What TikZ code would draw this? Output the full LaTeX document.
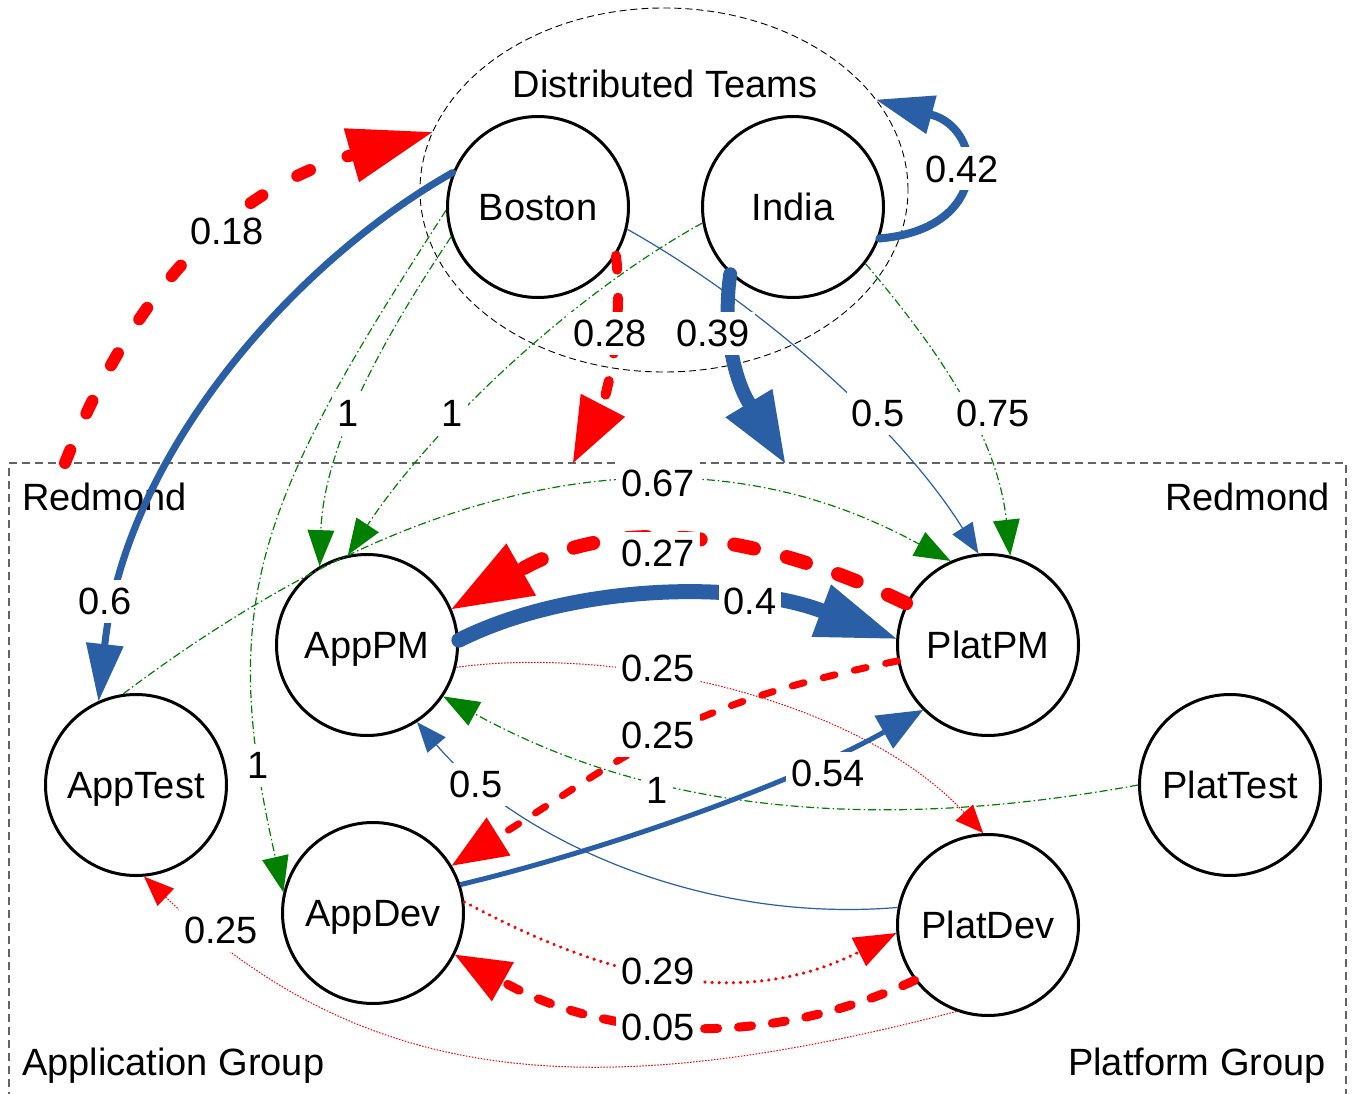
\documentclass[tikz,border=0pt]{standalone}
\usepackage{fontspec}
\setmainfont{Liberation Sans}
\usetikzlibrary{arrows.meta,shapes.geometric}
\definecolor{eblue}{RGB}{42,95,165}
\definecolor{ered}{RGB}{255,0,0}
\definecolor{egreen}{RGB}{0,128,0}
\definecolor{egray}{RGB}{100,100,100}
\tikzset{
  bigfont/.style={font=\fontsize{38}{44}\selectfont, text height=27pt, text depth=0pt},
  nd/.style={circle, draw=black, line width=3pt, fill=white, minimum size=181pt, inner sep=0pt, bigfont},
  lbl/.style={fill=white, inner xsep=5pt, inner ysep=8pt, bigfont},
  txt/.style={inner sep=0pt, bigfont},
  gdd/.style={draw=egreen, line width=1.2pt, dash pattern=on 8pt off 3pt on 1.5pt off 3pt,
              -{Triangle[length=36pt,width=27pt,line width=0pt]}},
  bluethin/.style={draw=eblue, line width=1.2pt, -{Triangle[length=30pt,width=24pt,line width=0pt]}},
  rdot/.style={draw=ered, line width=1pt, dash pattern=on 1.5pt off 1.5pt},
  bluethick/.style={draw=eblue, line cap=round},
  reddash/.style={draw=ered, line cap=round},
}
\begin{document}
\begin{tikzpicture}[x=1pt,y=-1pt]
\useasboundingbox (0,0) rectangle (1355,1094);
\clip (0,0) rectangle (1355,1094);
\fill[white] (0,0) rectangle (1355,1094);

% group frames
\node[draw=egray, line width=1.2pt, dash pattern=on 8pt off 5pt, minimum width=1337pt, minimum height=649pt, inner sep=0pt] (redmond) at (677.5,787.5) {};
\node[draw=black, ellipse, line width=0.9pt, dash pattern=on 7pt off 4pt, minimum width=488pt, minimum height=364pt, inner sep=0pt] (dist) at (664,190) {};
\node[txt] (distlbl) at (665,84) {Distributed Teams};
\node[txt, anchor=west] (redl) at (22,497) {Redmond};
\node[txt, anchor=east] (redr) at (1330,497) {Redmond};
\node[txt, anchor=west] (appgrp) at (22,1062) {Application Group};
\node[txt, anchor=east] (platgrp) at (1326,1062) {Platform Group};

\coordinate (r18) at (65,463);
\coordinate (r28) at (573,463);
\coordinate (r39) at (785,463);

% nodes
\node[nd] (boston) at (538,207) {Boston};
\node[nd] (india) at (793,207) {India};
\node[nd] (apppm) at (367,645) {AppPM};
\node[nd] (platpm) at (988,645) {PlatPM};
\node[nd] (apptest) at (136,785) {AppTest};
\node[nd] (plattest) at (1230,785) {PlatTest};
\node[nd] (appdev) at (373,913) {AppDev};
\node[nd] (platdev) at (988,925) {PlatDev};

% edges
\draw[reddash, line width=12pt, dash pattern=on 14pt off 40pt, -{Triangle[length=84pt,width=56pt,line width=0pt]}]
  (r18) .. controls (139,277) and (240,187) .. (dist.166);
\draw[bluethick, line width=7pt, -{Triangle[length=57pt,width=38pt,line width=0pt]}]
  (boston.158) .. controls (296,261) and (126,452) .. (apptest.114);
\draw[bluethick, line width=8pt, -{Triangle[length=57pt,width=40pt,line width=0pt]}]
  (india.340) .. controls (993,229) and (984,129) .. (dist.23);
\draw[reddash, line width=10pt, dash pattern=on 14pt off 28pt, -{Triangle[length=65pt,width=50pt,line width=0pt]}]
  (boston.-32) .. controls (625,340) and (601,409) .. (r28);
\draw[bluethick, line width=14pt, -{Triangle[length=70pt,width=55pt,line width=0pt]}]
  (india.227) .. controls (722,330) and (735,380) .. (r39);
\draw[bluethin] (boston.-14.5) .. controls (757,302) and (898,425) .. (platpm.96);
\draw[gdd] (india.-38) .. controls (936,347) and (997,434) .. (platpm.76.5);
\draw[gdd] (boston.199) .. controls (384,337) and (324,445) .. (apppm.121.5);
\draw[gdd] (boston.182) .. controls (256,504) and (217,601) .. (appdev.167);
\draw[gdd] (india.190.6) .. controls (570,296) and (430,430) .. (apppm.102);
\draw[gdd] (apptest.98.6) .. controls (554,369) and (824,493) .. (platpm.114.6);
\draw[reddash, line width=14pt, dash pattern=on 20pt off 34pt, -{Triangle[length=80pt,width=60pt,line width=0pt]}]
  (platpm.153) .. controls (743,525) and (610,519) .. (apppm.23);
\draw[bluethick, line width=15pt, -{Triangle[length=80pt,width=56pt,line width=0pt]}]
  (apppm.3) .. controls (571,584) and (739,580) .. (platpm.176);
\draw[rdot, -{Triangle[length=28pt,width=24pt,line width=0pt]}]
  (apppm.-14) .. controls (620,645) and (860,700) .. (platdev.93);
\draw[reddash, line width=7pt, dash pattern=on 12pt off 20pt, -{Triangle[length=55pt,width=45pt,line width=0pt]}]
  (platpm.190) .. controls (681,705) and (640,748) .. (appdev.31);
\draw[gdd] (plattest.180) .. controls (893,830) and (664,818) .. (apppm.-34);
\draw[bluethin] (platdev.169) .. controls (698,924) and (515,837) .. (apppm.-57);
\draw[draw=eblue, line width=5pt, -{Triangle[length=45pt,width=38pt,line width=0pt]}]
  (appdev.18) .. controls (605,850) and (792,784) .. (platpm.225.4);
\draw[reddash, line width=3.5pt, dash pattern=on 0.1pt off 7pt, -{Triangle[length=42pt,width=32pt,line width=0pt]}]
  (appdev.7) .. controls (613,982) and (744,1010) .. (platdev.185);
\draw[reddash, line width=9pt, dash pattern=on 13pt off 21pt, -{Triangle[length=55pt,width=45pt,line width=0pt]}]
  (platdev.217) .. controls (762,1051) and (603,1038) .. (appdev.-27);
\draw[rdot, -{Triangle[length=30pt,width=24pt,line width=0pt]}]
  (platdev.250.6) .. controls (587,1108) and (364,1085) .. (apptest.275.5);

% edge labels
\node[lbl] (l18) at (227,231) {0.18};
\node[lbl] (l42) at (962,169) {0.42};
\node[lbl] (l28) at (610,333) {0.28};
\node[lbl] (l39) at (713,333) {0.39};
\node[lbl] (l1a) at (348,413) {1};
\node[lbl] (l1b) at (452,413) {1};
\node[lbl] (l50a) at (878,413) {0.5};
\node[lbl] (l75) at (993,413) {0.75};
\node[lbl] (l67) at (658,483) {0.67};
\node[lbl] (l27) at (658,553) {0.27};
\node[lbl] (l60) at (105,601) {0.6};
\node[lbl] (l40) at (750,601) {0.4};
\node[lbl] (l25a) at (658,668) {0.25};
\node[lbl] (l25b) at (658,735) {0.25};
\node[lbl] (l50b) at (476,784) {0.5};
\node[lbl] (l1c) at (258,765) {1};
\node[lbl] (l1d) at (657,790) {1};
\node[lbl] (l54) at (828,773) {0.54};
\node[lbl] (l25c) at (221,930) {0.25};
\node[lbl] (l29) at (658,971) {0.29};
\node[lbl] (l05) at (658,1027) {0.05};
\end{tikzpicture}
\end{document}
